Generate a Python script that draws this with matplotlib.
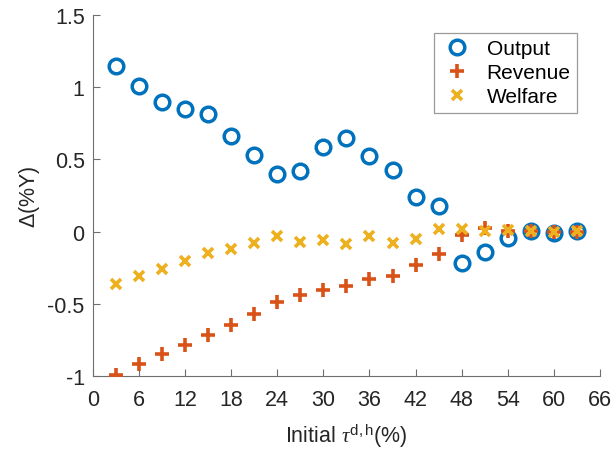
import numpy as np
import matplotlib
matplotlib.use('Agg')
import matplotlib.pyplot as plt

# data
tau = [3, 6, 9, 12, 15, 18, 21, 24, 27, 30, 33, 36, 39, 42, 45, 48, 51, 54, 57, 60, 63]
output = [1.15, 1.005, 0.90, 0.85, 0.815, 0.66, 0.53, 0.40, 0.42, 0.588, 0.645, 0.525,
          0.428, 0.24, 0.177, -0.22, -0.14, -0.045, 0.003, -0.008, 0.002]
revenue = [-0.995, -0.913, -0.85, -0.785, -0.717, -0.648, -0.568, -0.485, -0.44, -0.405,
           -0.378, -0.328, -0.31, -0.233, -0.152, -0.02, 0.026, 0.003, 0.002, -0.002, 0.0]
welfare = [-0.36, -0.31, -0.26, -0.20, -0.148, -0.118, -0.076, -0.03, -0.072, -0.058,
           -0.085, -0.033, -0.076, -0.048, 0.016, 0.02, 0.003, 0.008, 0.004, 0.0, 0.002]
xticks = list(range(0, 67, 6))
yticks = [-1, -0.5, 0, 0.5, 1, 1.5]
ytick_labels = ['-1', '-0.5', '0', '0.5', '1', '1.5']

plt.rcParams['font.family'] = ['Liberation Sans', 'DejaVu Sans']
plt.rcParams['mathtext.fontset'] = 'custom'
plt.rcParams['mathtext.rm'] = 'Liberation Sans'
plt.rcParams['mathtext.it'] = 'Liberation Serif:italic'

fs = 15.5

fig = plt.figure(figsize=(6.14, 4.56), dpi=100)
ax = fig.add_axes([0.1515, 0.173, 0.8255, 0.792])

ax.plot(tau, output, 'o', color='#0072BD', markerfacecolor='none',
        markersize=10.5, markeredgewidth=2.5, label='Output', zorder=3)
ax.plot(tau, revenue, '+', color='#D95319', markersize=10.5,
        markeredgewidth=2.6, label='Revenue', zorder=4)
ax.plot(tau, welfare, 'x', color='#EDB120', markersize=7.5,
        markeredgewidth=2.6, label='Welfare', zorder=5)

ax.set_xlim(0, 66)
ax.set_ylim(-1, 1.5)
ax.set_xticks(xticks)
ax.set_yticks(yticks)
ax.set_yticklabels(ytick_labels)

axcol = '#262626'
for s in ['top', 'right']:
    ax.spines[s].set_visible(False)
for s in ['left', 'bottom']:
    ax.spines[s].set_color('#6e6e6e')
    ax.spines[s].set_linewidth(0.8)
ax.tick_params(direction='in', length=5, width=0.8, color='#6e6e6e',
               labelcolor=axcol, labelsize=fs)
ax.tick_params(axis='x', pad=9)
ax.tick_params(axis='y', pad=6)

ax.set_xlabel(r'Initial $\tau^{\mathrm{d,h}}$(%)', fontsize=fs, color=axcol, labelpad=9)
ax.set_ylabel(r'$\Delta$(%Y)', fontsize=fs, color=axcol, labelpad=4)

leg = ax.legend(loc='upper right', bbox_to_anchor=(0.975, 0.98), fontsize=15,
                fancybox=False, framealpha=1, edgecolor='#9a9a9a',
                handletextpad=0.6, borderpad=0.3, labelspacing=0.25,
                handlelength=1.6)
leg.get_frame().set_linewidth(0.9)

fig.savefig('out.png', dpi=100)
